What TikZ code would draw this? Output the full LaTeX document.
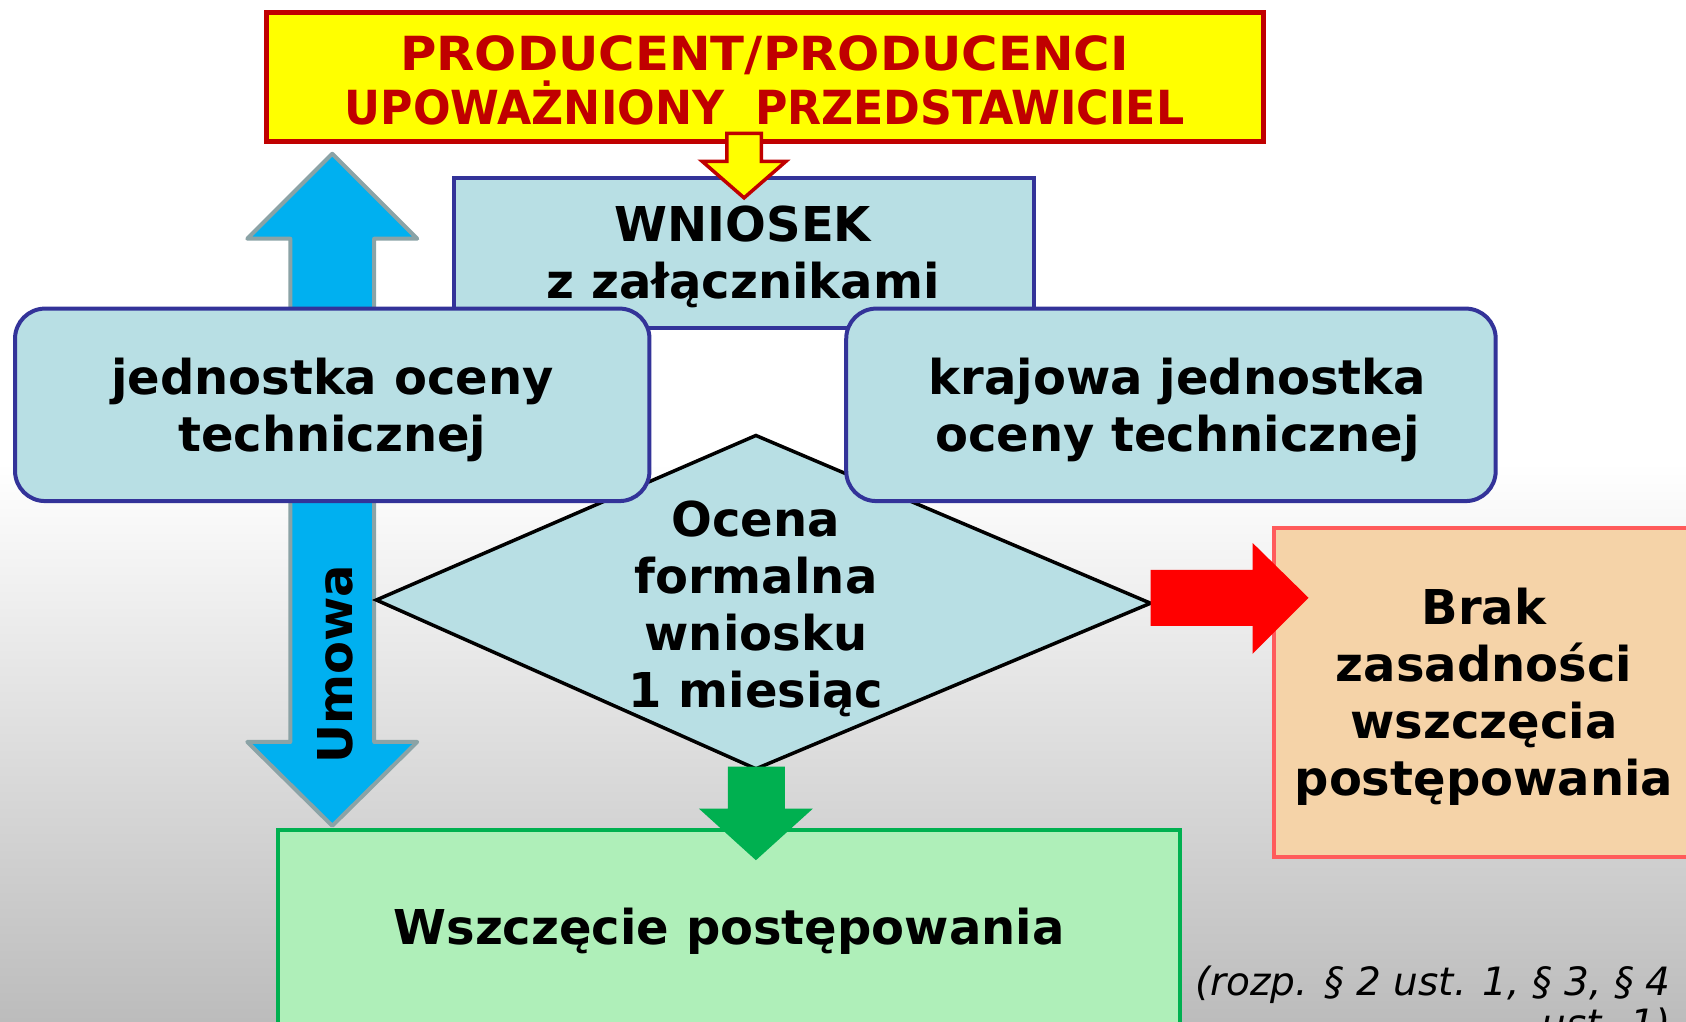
\documentclass[tikz,border=0pt]{standalone}
\usepackage{fontspec}
\setmainfont{DejaVu Sans}
\usetikzlibrary{fit}
\definecolor{boxblue}{HTML}{B8DFE4}
\definecolor{navy}{HTML}{333399}
\definecolor{darkred}{HTML}{C00000}
\definecolor{pureyellow}{HTML}{FFFF00}
\definecolor{arrowblue}{HTML}{00B0F0}
\definecolor{arrowgray}{HTML}{8BA3A6}
\definecolor{peach}{HTML}{F5D3A8}
\definecolor{peachborder}{HTML}{FF5B5B}
\definecolor{lightgreen}{HTML}{AFEFB9}
\definecolor{green}{HTML}{00B050}
\definecolor{bggray}{HTML}{BCBCBC}
\tikzset{
  bigtext/.style={font=\fontsize{48}{57}\selectfont\bfseries, align=center, text=black, inner sep=0pt},
  bluebox/.style={fill=boxblue, draw=navy, line width=4pt, inner sep=0pt},
  notetext/.style={font=\fontsize{39}{42}\selectfont\itshape, inner sep=0pt, anchor=base east},
}
\begin{document}
\begin{tikzpicture}[x=1.0753pt,y=-1.0753pt]
\useasboundingbox (0,0) rectangle (1568,950);
\clip (0,0) rectangle (1568,950);
\fill[white] (0,0) rectangle (1568,950);
\shade[top color=white, bottom color=bggray] (0,430) rectangle (1568,950);

% top box
\coordinate (p1) at (248,12); \coordinate (p2) at (1175,132);
\node[fit=(p1)(p2), fill=pureyellow, draw=darkred, line width=5pt, inner sep=0pt] (prod) {};
\node[font=\fontsize{47}{54}\selectfont\bfseries, text=darkred, align=center, inner sep=0pt]
  (prodlabel) at (711,75)
  {\scalebox{1.058}[1]{PRODUCENT/PRODUCENCI}\\\scalebox{0.942}[1]{UPOWAŻNIONY\ \ PRZEDSTAWICIEL}};

% blue double arrow (behind left box)
\draw[fill=arrowblue, draw=arrowgray, line width=4pt, line join=round]
  (270,222) -- (230,222) -- (309,143) -- (388,222) -- (348,222) -- (348,690)
  -- (388,690) -- (309,768) -- (230,690) -- (270,690) -- cycle;

% WNIOSEK box
\coordinate (w1) at (422,166); \coordinate (w2) at (962,305);
\node[bluebox, fit=(w1)(w2)] (wniosek) {};
\node[bigtext] at (691,239) (wnioseklabel) {WNIOSEK\\z załącznikami};

% yellow small arrow
\draw[fill=pureyellow, draw=darkred, line width=3.5pt]
  (676,124) -- (708,124) -- (708,150) -- (731,150) -- (692,184) -- (653,150) -- (676,150) -- cycle;

% diamond
\coordinate (dl) at (350,558); \coordinate (dt) at (703,405);
\coordinate (dr) at (1070,561); \coordinate (db) at (703,715);
\draw[fill=boxblue, draw=black, line width=3.5pt] (dl) -- (dt) -- (dr) -- (db) -- cycle;
\node[bigtext] (ocena) at (703,566.5) {Ocena\\formalna\\wniosku\\1 miesiąc};

% rounded boxes
\coordinate (l1) at (14,287); \coordinate (l2) at (604,466);
\node[bluebox, fit=(l1)(l2), rounded corners=30pt] (jot) {};
\node[bigtext] (jotlabel) at (309,381) {jednostka oceny\\technicznej};
\coordinate (r1) at (787,287); \coordinate (r2) at (1391,466);
\node[bluebox, fit=(r1)(r2), rounded corners=30pt] (kjot) {};
\node[bigtext] (kjotlabel) at (1095,381) {krajowa jednostka\\oceny technicznej};

% Umowa
\node[bigtext, rotate=90] (umowa) at (312,618) {Umowa};

% Brak box
\coordinate (b1) at (1185,491); \coordinate (b2) at (1575,797);
\node[fit=(b1)(b2), fill=peach, draw=peachborder, line width=4pt, inner sep=0pt] (brak) {};
\node[bigtext] (braklabel) at (1380,648) {Brak\\zasadności\\wszczęcia\\postępowania};

% red arrow
\fill[red] (1070,530) -- (1165,530) -- (1165,505) -- (1217,556) -- (1165,608) -- (1165,582) -- (1070,582) -- cycle;

% Wszczęcie box
\coordinate (g1) at (259,772); \coordinate (g2) at (1097,960);
\node[fit=(g1)(g2), fill=lightgreen, draw=green, line width=4pt, inner sep=0pt] (wszczecie) {};
\node[bigtext] (wszczecielabel) at (678,866) {Wszczęcie postępowania};

% green arrow
\fill[green] (677,713) -- (730,713) -- (730,752) -- (756,752) -- (703,800) -- (650,752) -- (677,752) -- cycle;

% reference note
\node[notetext] (note) at (1554,926) {(rozp. § 2 ust. 1, § 3, § 4};
\node[notetext] (note2) at (1554,965) {ust. 1)};
\end{tikzpicture}
\end{document}
